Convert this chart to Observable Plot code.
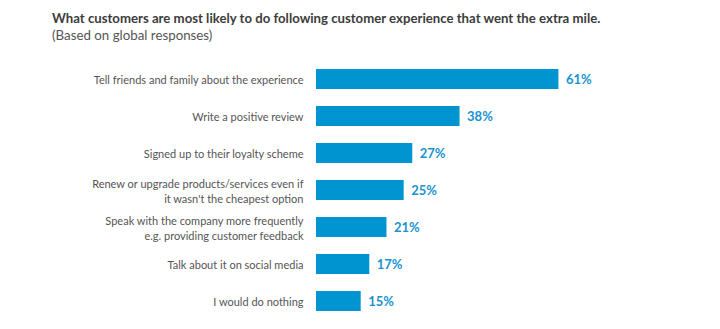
<!DOCTYPE html>
<html>
<head>
<meta charset="utf-8">
<script src="https://cdn.jsdelivr.net/npm/d3@7"></script>
<script src="https://cdn.jsdelivr.net/npm/@observablehq/plot@0.6"></script>
<style>
  html, body { margin: 0; padding: 0; background: #fff; }
  body { width: 720px; height: 329px; overflow: hidden; font-family: Lato, "Open Sans", sans-serif; }
  #head { height: 48px; box-sizing: border-box; padding: 10px 0 0 52px; }
  #title { font-size: 13.2px; font-weight: bold; color: #3c3c3c; line-height: 16px; }
  #subtitle { font-size: 13.3px; color: #555; line-height: 16px; margin-top: 1px; }
</style>
</head>
<body>
<div id="head">
  <div id="title">What customers are most likely to do following customer experience that went the extra mile.</div>
  <div id="subtitle">(Based on global responses)</div>
</div>
<div id="chart"></div>
<script>
const categories = [
  "Tell friends and family about the experience",
  "Write a positive review",
  "Signed up to their loyalty scheme",
  "Renew or upgrade products/services even if\nit wasn't the cheapest option",
  "Speak with the company more frequently\ne.g. providing customer feedback",
  "Talk about it on social media",
  "I would do nothing"
];
const values = [61, 38, 27, 25, 21, 17, 15];
const valueLabels = ["61%", "38%", "27%", "25%", "21%", "17%", "15%"];

const data = categories.map((c, i) => ({category: c, value: values[i], label: valueLabels[i]}));

const chart = Plot.plot({
  width: 720,
  height: 283,
  marginTop: 2,
  marginBottom: 0,
  marginLeft: 316,
  marginRight: 0,
  style: {fontFamily: "Lato, 'Open Sans', sans-serif", background: "transparent"},
  x: {domain: [4.6, 98.6], clamp: true, axis: null},
  y: {domain: categories, padding: 0.455, label: null},
  marks: [
    Plot.barX(data, {y: "category", x: "value", fill: "#0094d1"}),
    Plot.text(data, {
      y: "category", x: "value", text: "label", dx: 7, textAnchor: "start",
      fill: "#1a93d0", fontWeight: "bold", fontSize: 13
    }),
    Plot.axisY({tickSize: 0, tickPadding: 13, fontSize: 11, lineHeight: 1.35, color: "#555", label: null})
  ]
});
document.getElementById("chart").appendChild(chart);
</script>
</body>
</html>
